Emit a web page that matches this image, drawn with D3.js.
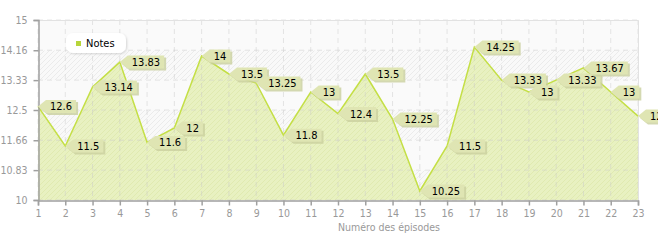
<!DOCTYPE html>
<html>
<head>
<meta charset="utf-8">
<script src="https://cdn.jsdelivr.net/npm/d3@7"></script>
<style>
  body { margin: 0; background: #fff; }
  svg { display: block; }
</style>
</head>
<body>
<div id="chart"></div>
<script>
var width = 658;
var height = 240;

var episodes = [1, 2, 3, 4, 5, 6, 7, 8, 9, 10, 11, 12, 13, 14, 15, 16, 17, 18, 19, 20, 21, 22, 23];
var notes = [12.6, 11.5, 13.14, 13.83, 11.6, 12, 14, 13.5, 13.25, 11.8, 13, 12.4, 13.5, 12.25, 10.25, 11.5, 14.25, 13.33, 13, 13.33, 13.67, 13, 12.33];
var yTicks = [10, 10.83, 11.66, 12.5, 13.33, 14.16, 15];
var seriesName = "Notes";
var xTitle = "Numéro des épisodes";

var plotLeft = 38, plotRight = 638, plotTop = 20, plotBottom = 200;

var svg = d3.select('#chart')
            .append('svg')
            .attr('width', width)
            .attr('height', height);

var x = d3.scaleLinear().domain([1, 23]).range([plotLeft, plotRight]);
var y = d3.scaleLinear().domain([10, 15]).range([plotBottom, plotTop]);

var defs = svg.append("defs");
var hatch = defs.append("pattern")
   .attr("id", "hatchBg")
   .attr("patternUnits", "userSpaceOnUse")
   .attr("width", 5).attr("height", 5);
hatch.append("rect").attr("width", 5).attr("height", 5).attr("fill", "#f9f9f9");
hatch.append("path").attr("d", "M-1,1 l2,-2 M0,5 l5,-5 M4,6 l2,-2")
   .attr("stroke", "#ebebeb").attr("stroke-width", 1);

var hatchA = defs.append("pattern")
   .attr("id", "hatchArea")
   .attr("patternUnits", "userSpaceOnUse")
   .attr("width", 5).attr("height", 5);
hatchA.append("rect").attr("width", 5).attr("height", 5).attr("fill", "#e8f1c1");
hatchA.append("path").attr("d", "M-1,1 l2,-2 M0,5 l5,-5 M4,6 l2,-2")
   .attr("stroke", "#e0eab0").attr("stroke-width", 1);

var shadow = defs.append("filter").attr("id", "shadow")
   .attr("x", "-20%").attr("y", "-40%").attr("width", "150%").attr("height", "200%");
shadow.append("feDropShadow").attr("dx", 1).attr("dy", 1).attr("stdDeviation", 1.2)
   .attr("flood-color", "#000").attr("flood-opacity", 0.15);

// background bands
for (var i = 0; i < yTicks.length - 1; i++) {
	svg.append("rect")
	   .attr("x", plotLeft)
	   .attr("y", y(yTicks[i + 1]))
	   .attr("width", plotRight - plotLeft)
	   .attr("height", y(yTicks[i]) - y(yTicks[i + 1]))
	   .attr("fill", i % 2 == 1 ? "#fafafa" : "url(#hatchBg)");
}

// area
var area = d3.area()
   .x(function(d, i) { return x(episodes[i]); })
   .y0(plotBottom)
   .y1(function(d) { return y(d); });
svg.append("path")
   .datum(notes)
   .attr("d", area)
   .attr("fill", "url(#hatchArea)");

// grid
svg.append("g").selectAll("line")
   .data(episodes)
   .enter().append("line")
   .attr("x1", function(d) { return x(d); })
   .attr("x2", function(d) { return x(d); })
   .attr("y1", plotTop).attr("y2", plotBottom)
   .attr("stroke", "#c8c8c8").attr("stroke-opacity", 0.45)
   .attr("stroke-dasharray", "5,4");
svg.append("g").selectAll("line")
   .data(yTicks)
   .enter().append("line")
   .attr("x1", plotLeft).attr("x2", plotRight)
   .attr("y1", function(d) { return y(d); })
   .attr("y2", function(d) { return y(d); })
   .attr("stroke", "#c8c8c8").attr("stroke-opacity", 0.45)
   .attr("stroke-dasharray", "5,4");

// frame top/right
svg.append("path")
   .attr("d", "M" + plotLeft + "," + (plotTop + 0.5) + "H" + (plotRight + 0.5) + "V" + plotBottom)
   .attr("fill", "none").attr("stroke", "#e2e2e2");

// line
var line = d3.line()
   .x(function(d, i) { return x(episodes[i]); })
   .y(function(d) { return y(d); });
svg.append("path")
   .datum(notes)
   .attr("d", line)
   .attr("fill", "none")
   .attr("stroke", "#c4df45")
   .attr("stroke-width", 1.5);

// axes
var yAxis = svg.append("g")
   .attr("transform", "translate(" + (plotLeft + 0.5) + ",0)")
   .call(d3.axisLeft(y).tickValues(yTicks).tickSize(5).tickPadding(6).tickFormat(function(d) { return d; }));
var xAxis = svg.append("g")
   .attr("transform", "translate(0," + (plotBottom + 0.5) + ")")
   .call(d3.axisBottom(x).tickValues(episodes).tickSize(5).tickPadding(4).tickFormat(d3.format("d")));
[yAxis, xAxis].forEach(function(ax) {
	ax.select(".domain").attr("stroke", "#a0a0a0").attr("stroke-width", 1.5);
	ax.selectAll(".tick line").attr("stroke", "#a0a0a0").attr("stroke-width", 1.5);
	ax.selectAll("text").attr("fill", "#999").style("font-family", "DejaVu Sans Condensed, DejaVu Sans")
	  .style("font-size", "10.5px");
});

svg.append("text")
   .attr("x", 389).attr("y", 231)
   .attr("text-anchor", "middle")
   .attr("fill", "#999")
   .style("font-family", "DejaVu Sans Condensed, DejaVu Sans")
   .style("font-size", "10.5px")
   .text(xTitle);

// value labels
var labels = svg.append("g");
notes.forEach(function(v, i) {
	var px = x(episodes[i]), py = y(v);
	var g = labels.append("g").attr("transform", "translate(" + px + "," + py + ")");
	var t = g.append("text")
	   .attr("x", 12)
	   .attr("y", 4)
	   .attr("fill", "#000")
	   .style("font-family", "DejaVu Sans Condensed, DejaVu Sans")
	   .style("font-size", "11px")
	   .text(v);
	var w = t.node().getComputedTextLength() + 8;
	var d = "M0,0 L8,-6.5 H" + (8 + w) + " V6.5 H8 Z";
	g.insert("path", "text")
	   .attr("d", d)
	   .attr("transform", "translate(2,2)")
	   .attr("fill", "#c9cf9d").attr("opacity", 0.8);
	g.insert("path", "text")
	   .attr("d", d)
	   .attr("fill", "#dfe5b3");
});

// legend
var legend = svg.append("g").attr("transform", "translate(66,33)");
legend.append("rect")
   .attr("width", 60).attr("height", 20).attr("rx", 7)
   .attr("fill", "#fff")
   .attr("filter", "url(#shadow)");
legend.append("rect")
   .attr("x", 10).attr("y", 8).attr("width", 5).attr("height", 5)
   .attr("fill", "#b7d53a");
legend.append("text")
   .attr("x", 20).attr("y", 14)
   .attr("fill", "#000")
   .style("font-family", "DejaVu Sans Condensed, DejaVu Sans")
   .style("font-size", "11px")
   .text(seriesName);
</script>
</body>
</html>
